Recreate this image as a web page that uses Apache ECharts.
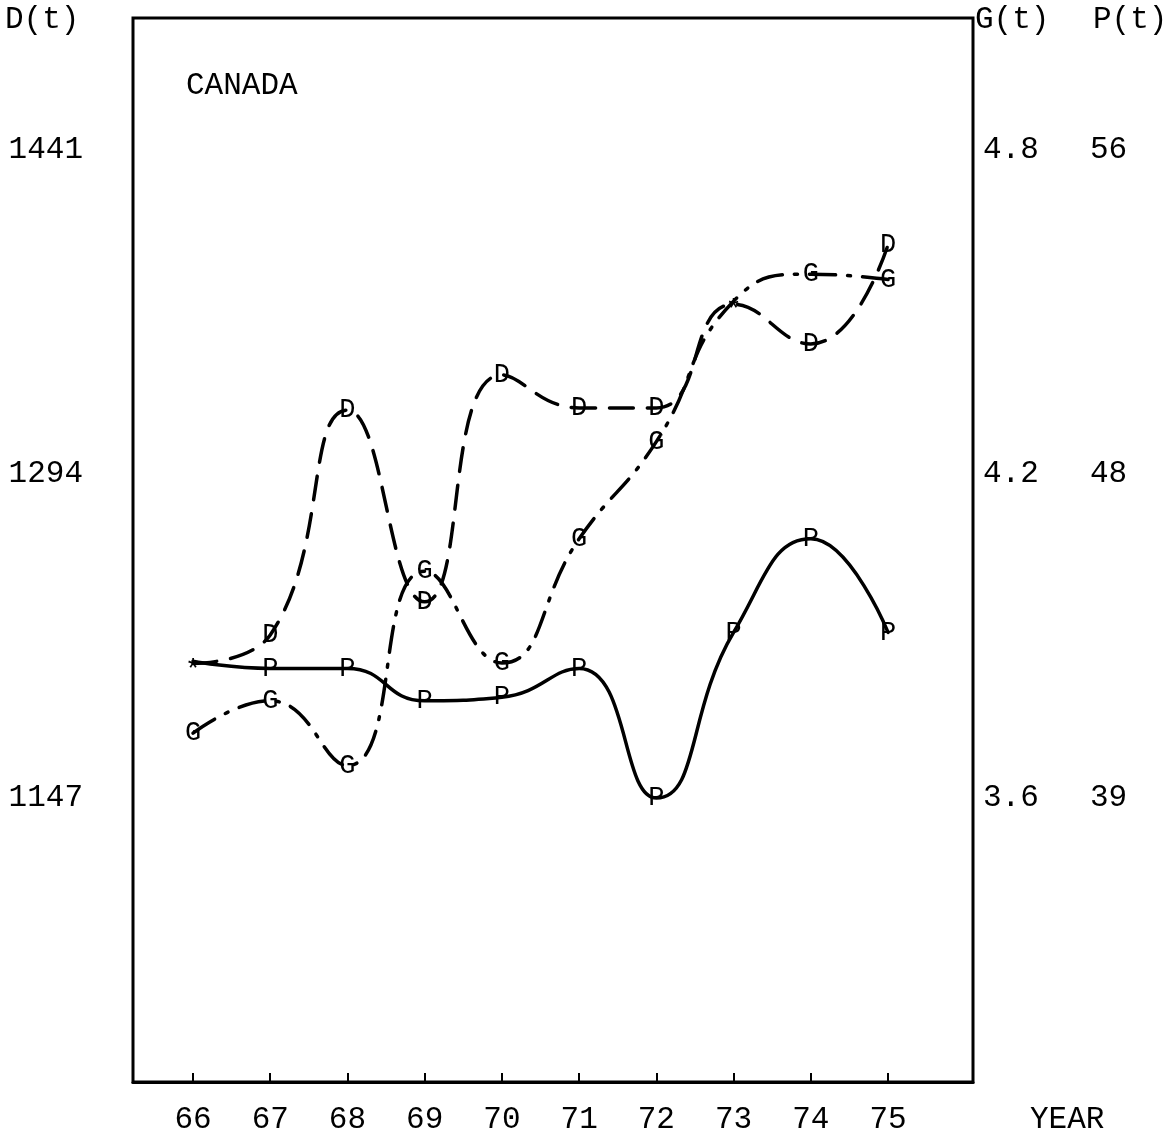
<!DOCTYPE html>
<html>
<head>
<meta charset="utf-8">
<script src="https://cdn.jsdelivr.net/npm/echarts@6/dist/echarts.min.js"></script>
<style>
  html, body { margin: 0; padding: 0; background: #fff; }
  #chart { width: 1176px; height: 1140px; }
</style>
</head>
<body>
<div id="chart"></div>
<script>
// values
const years = [66, 67, 68, 69, 70, 71, 72, 73, 74, 75];
const dValues = [1208, 1221, 1323, 1236, 1339, 1324, 1324, 1371, 1353, 1398];
const gValues = [3.72, 3.78, 3.66, 4.02, 3.85, 4.08, 4.26, 4.52, 4.57, 4.56];
const pValues = [42.8, 42.6, 42.6, 41.7, 41.8, 42.6, 39.0, 43.6, 46.2, 43.6];

// point letters, '*' where two curves meet
const dMarks = ['*', 'D', 'D', 'D', 'D', 'D', 'D', '*', 'D', 'D'];
const gMarks = ['G', 'G', 'G', 'G', 'G', 'G', 'G', '', 'G', 'G'];
const pMarks = ['', 'P', 'P', 'P', 'P', 'P', 'P', 'P', 'P', 'P'];

// tick labels
const dTicks = [1147, 1294, 1441];
const gTicks = [3.6, 4.2, 4.8];
const pTicks = ['39', '48', '56'];
// the printed P scale is not even: 39..48 spans the same height as 48..56,
// so the top label sits where 57 would be on the 39..48 scale
const pTickSlots = [39, 48, 57];

const mono = 'Liberation Mono';
const ink = '#000';

function curve(name, axis, vals, marks, dash) {
  return {
    name: name,
    type: 'line',
    yAxisIndex: axis,
    data: years.map((y, i) => ({
      value: [y, vals[i]],
      // the asterisk glyph sits high in its box
      label: marks[i] === '*' ? { offset: [0, 7] } : undefined
    })),
    smooth: 0.5,
    symbol: 'circle',
    symbolSize: 2,
    itemStyle: { color: 'rgba(0,0,0,0)' },
    lineStyle: { color: ink, width: 3.5, type: dash, cap: 'round' },
    label: {
      show: true,
      position: 'inside',
      formatter: p => marks[p.dataIndex],
      fontFamily: mono,
      fontSize: 27,
      color: ink
    },
    emphasis: { disabled: true },
    silent: true
  };
}

const chart = echarts.init(document.getElementById('chart'));
chart.setOption({
  animation: false,
  backgroundColor: '#fff',
  title: [
    { text: 'CANADA', left: 186, top: 70 },
    { text: 'D(t)', left: 5, top: 4 },
    { text: 'G(t)', left: 975, top: 4 },
    { text: 'P(t)', left: 1093, top: 4 },
    { text: 'YEAR', left: 1030, top: 1104 }
  ].map(t => Object.assign(t, {
    padding: 0,
    textStyle: { fontFamily: mono, fontSize: 31, fontWeight: 'normal', color: ink }
  })),
  grid: {
    left: 133, right: 203, top: 18, bottom: 58,
    outerBoundsMode: 'none',
    containLabel: false,
    show: true, borderColor: ink, borderWidth: 3
  },
  xAxis: {
    type: 'value',
    min: 65.223,
    max: 76.1,
    axisLine: { show: true, lineStyle: { color: ink, width: 3 } },
    axisTick: { show: true, inside: true, length: 9, customValues: years, lineStyle: { color: ink, width: 2 } },
    axisLabel: { customValues: years, margin: 22, fontFamily: mono, fontSize: 31, color: ink },
    splitLine: { show: false }
  },
  yAxis: [
    {
      type: 'value', position: 'left',
      min: 1018.15, max: 1500.89,
      axisLine: { show: false }, axisTick: { show: false }, splitLine: { show: false },
      axisLabel: { customValues: dTicks, margin: 50, formatter: v => String(v), fontFamily: mono, fontSize: 31, color: ink }
    },
    {
      type: 'value', position: 'right',
      min: 3.0741, max: 5.0444,
      axisLine: { show: false }, axisTick: { show: false }, splitLine: { show: false },
      axisLabel: { customValues: gTicks, margin: 10, formatter: v => v.toFixed(1), fontFamily: mono, fontSize: 31, color: ink }
    },
    {
      type: 'value', position: 'right', offset: 107,
      min: 31.111, max: 60.667,
      axisLine: { show: false }, axisTick: { show: false }, splitLine: { show: false },
      axisLabel: {
        customValues: pTickSlots, margin: 10,
        formatter: v => pTicks[pTickSlots.indexOf(v)],
        fontFamily: mono, fontSize: 31, color: ink
      }
    }
  ],
  series: [
    curve('P', 2, pValues, pMarks, 'solid'),
    curve('G', 1, gValues, gMarks, [26, 12, 3, 12]),
    curve('D', 0, dValues, dMarks, [24, 14])
  ]
});
</script>
</body>
</html>
